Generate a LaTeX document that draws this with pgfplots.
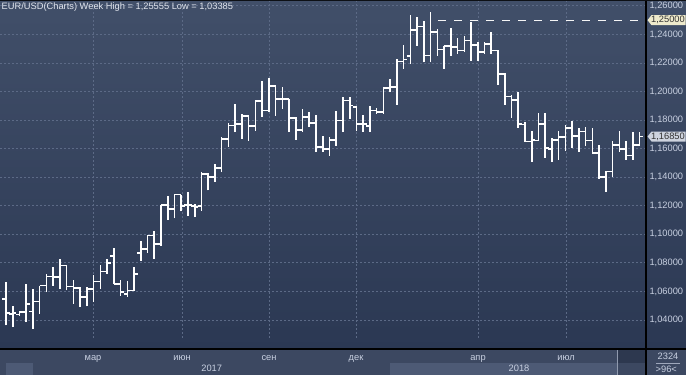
\documentclass[border=0pt]{standalone}
\usepackage{fontspec}
\setmainfont{Liberation Sans}
\usepackage{pgfplots}
\usepackage{pgfplotstable}
\pgfplotsset{compat=1.18}
\definecolor{bgtop}{RGB}{65,79,105}
\definecolor{bgbot}{RGB}{43,56,83}
\definecolor{strip}{RGB}{60,72,97}
\definecolor{striplight}{RGB}{77,90,117}
\definecolor{darkbox}{RGB}{45,56,79}
\definecolor{gridc}{RGB}{92,106,134}
\definecolor{labc}{RGB}{200,208,225}
\definecolor{titlec}{RGB}{226,230,238}
\definecolor{tagyellow}{RGB}{238,234,204}
\definecolor{taggray}{RGB}{206,211,222}
\pgfdeclareplotmark{otick}{\pgfpathmoveto{\pgfqpoint{-3.6pt}{0pt}}\pgfpathlineto{\pgfqpoint{0pt}{0pt}}\pgfusepathqstroke}
\pgfdeclareplotmark{ctick}{\pgfpathmoveto{\pgfqpoint{0pt}{0pt}}\pgfpathlineto{\pgfqpoint{3.6pt}{0pt}}\pgfusepathqstroke}
\newcommand{\lab}{\fontsize{9.3}{11}\selectfont}

\pgfplotstableread{
k O H L C
0 1.0610 1.0660 1.0530 1.0559
1 1.0547 1.0664 1.0362 1.0447
2 1.0440 1.0500 1.0349 1.0447
3 1.0437 1.0466 1.0430 1.0456
4 1.0456 1.0653 1.0384 1.0512
5 1.0460 1.0615 1.03385 1.0530
6 1.0528 1.0641 1.0442 1.0642
7 1.0642 1.0723 1.0594 1.0705
8 1.0705 1.0770 1.0641 1.0700
9 1.0700 1.0828 1.0617 1.0781
10 1.0781 1.0784 1.0607 1.0634
11 1.0634 1.0681 1.0512 1.0622
12 1.0622 1.0630 1.0490 1.0559
13 1.0560 1.0630 1.0495 1.0618
14 1.0618 1.0715 1.0525 1.0670
15 1.0670 1.0785 1.0615 1.0740
16 1.0740 1.0825 1.0725 1.0800
17 1.0850 1.0905 1.0653 1.0653
18 1.0653 1.0681 1.0571 1.0594
19 1.0580 1.0673 1.0564 1.0606
20 1.0606 1.0774 1.0601 1.0723
21 1.0870 1.0956 1.0816 1.0898
22 1.0898 1.0996 1.0870 1.0991
23 1.0991 1.1023 1.0828 1.0933
24 1.0933 1.1206 1.0917 1.1206
25 1.1206 1.1271 1.1103 1.1178
26 1.1178 1.1283 1.1112 1.1278
27 1.1278 1.1278 1.1161 1.1197
28 1.1206 1.1295 1.1127 1.1206
29 1.1199 1.1213 1.1120 1.1190
30 1.1197 1.1439 1.1166 1.1423
31 1.1423 1.1432 1.1308 1.1400
32 1.1400 1.1493 1.1369 1.1463
33 1.1463 1.1680 1.1435 1.1668
34 1.1668 1.1777 1.1612 1.1762
35 1.1762 1.1914 1.1715 1.1773
36 1.1773 1.1843 1.1668 1.1827
37 1.1827 1.1832 1.1656 1.1757
38 1.1757 1.1937 1.1726 1.1932
39 1.1932 1.2077 1.1820 1.1867
40 1.1867 1.2093 1.1860 1.2037
41 1.2037 1.2042 1.1832 1.1949
42 1.1949 1.2030 1.1878 1.1949
43 1.1949 1.1949 1.1715 1.1815
44 1.1815 1.1820 1.1661 1.1731
45 1.1731 1.1878 1.1715 1.1820
46 1.1820 1.1855 1.1750 1.1778
47 1.1778 1.1836 1.1575 1.1610
48 1.1610 1.1691 1.1575 1.1598
49 1.1598 1.1680 1.1551 1.1661
50 1.1661 1.1867 1.1621 1.1797
51 1.1797 1.1960 1.1715 1.1937
52 1.1937 1.1960 1.1808 1.1902
53 1.1890 1.1902 1.1727 1.1773
54 1.1773 1.1836 1.1720 1.1773
55 1.1760 1.1902 1.1715 1.1867
56 1.1867 1.1885 1.1845 1.1855
57 1.1855 1.2023 1.1843 1.2023
58 1.2023 1.2089 1.1995 1.2030
59 1.2030 1.2229 1.1906 1.2210
60 1.2210 1.2327 1.2159 1.2224
61 1.2250 1.2537 1.2194 1.2432
62 1.2432 1.2521 1.2322 1.2455
63 1.2455 1.2497 1.2205 1.2252
64 1.2252 1.25555 1.2205 1.2416
65 1.2416 1.2439 1.2252 1.2294
66 1.2294 1.2322 1.2159 1.2318
67 1.2318 1.2444 1.2252 1.2311
68 1.2311 1.2374 1.2264 1.2287
69 1.2287 1.2388 1.2276 1.2357
70 1.2357 1.2486 1.2217 1.2325
71 1.2325 1.2346 1.2217 1.2276
72 1.2276 1.2346 1.2264 1.2334
73 1.2334 1.2416 1.2264 1.2287
74 1.2287 1.2290 1.2049 1.2124
75 1.2124 1.2128 1.1909 1.1965
76 1.1965 1.1979 1.1815 1.1942
77 1.1942 1.1995 1.1745 1.1773
78 1.1770 1.1790 1.1645 1.1650
79 1.1650 1.1725 1.1505 1.1660
80 1.1656 1.1848 1.1656 1.1773
81 1.1773 1.1848 1.1535 1.1603
82 1.1598 1.1675 1.1505 1.1661
83 1.1661 1.1722 1.1521 1.1680
84 1.1680 1.1769 1.1586 1.1745
85 1.1745 1.1797 1.1603 1.1687
86 1.1687 1.1743 1.1575 1.1720
87 1.1720 1.1750 1.1617 1.1656
88 1.1656 1.1743 1.1563 1.1570
89 1.1570 1.1626 1.1388 1.1400
90 1.1400 1.1446 1.1299 1.1439
91 1.1439 1.1650 1.1400 1.1626
92 1.1626 1.1726 1.1579 1.1598
93 1.1598 1.1656 1.1523 1.1551
94 1.1551 1.1720 1.1523 1.1626
95 1.1626 1.1720 1.1626 1.1685
}\ohlc

\begin{document}
\begin{tikzpicture}[x=1pt,y=1pt]
\path[use as bounding box] (0,0) rectangle (686,375);
\shade[top color=bgtop, bottom color=bgbot] (0,26) rectangle (686,375);
\fill[strip] (0,0) rectangle (686,26);
\fill[striplight] (6,0) rectangle (33,12);
\fill[striplight] (390,0) rectangle (617,12);
\fill[darkbox] (618,12) rectangle (646,26);
\draw[labc!60!strip, line width=0.6pt] (617.3,0) -- (617.3,25);
\begin{axis}[at={(0,26)}, anchor=south west,
  width=646pt, height=349pt, scale only axis,
  xmin=0.11, xmax=95.96, ymin=1.02743, ymax=1.27191,
  axis line style={draw=none},
  major tick length=0pt,
  scaled ticks=false,
  xtick={13.91,27.11,40.02,52.93,71.03,84.09},
  xticklabels={},
  ytick={1.04,1.06,1.08,1.10,1.12,1.14,1.16,1.18,1.20,1.22,1.24,1.26},
  yticklabel pos=right,
  grid=major,
  grid style={gridc, dash pattern=on 2pt off 2pt, line width=0.8pt},
  tick label style={font=\lab, text=labc},
  yticklabel style={/pgf/number format/fixed, /pgf/number format/fixed zerofill,
    /pgf/number format/precision=5, /pgf/number format/use comma,
    /pgf/number format/assume math mode=true, anchor=west},
  clip mode=individual,
]
% high-low lines
\addplot[white, line width=1.6pt, mark=none, -,
  quiver={u=0, v=\thisrow{H}-\thisrow{L}}]
  table[x=k, y=L] {\ohlc};
% open ticks (left) and close ticks (right)
\addplot[only marks, mark=otick, mark options={draw=white, solid, line width=1.6pt}]
  table[x=k, y=O] {\ohlc};
\addplot[only marks, mark=ctick, mark options={draw=white, solid, line width=1.6pt}]
  table[x=k, y=C] {\ohlc};
% level line
\addplot[draw=white!92!gray, line width=0.9pt, dash pattern=on 8pt off 8pt]
  coordinates {(65.1,1.25) (94.8,1.25)};
\coordinate (tagA) at (axis cs:95.96,1.25);
\coordinate (tagB) at (axis cs:95.96,1.1685);
\end{axis}
\draw[black, line width=1.5pt] (0,26) -- (686,26);
\draw[black, line width=1.5pt] (646,0) -- (646,375);
\draw[black!80!bgtop, line width=1pt] (0,374.5) -- (686,374.5);
% month labels
\foreach \xx/\mm in {93/мар,182/июн,269/сен,356/дек,478/апр,566/июл}
  \node[font=\lab, text=labc, anchor=base, inner sep=0pt] at (\xx,14.5) {\mm};
% price tags
\fill[tagyellow] ([xshift=1.5pt]tagA) -- ++(4,5) -- ++(34,0) -- ++(0,-10) -- ++(-34,0) -- cycle;
\node[font=\lab, text=black!80, anchor=center, inner sep=0pt] at ([xshift=22pt]tagA) {1,25000};
\fill[taggray] ([xshift=1.5pt]tagB) -- ++(4,5) -- ++(34,0) -- ++(0,-10) -- ++(-34,0) -- cycle;
\node[font=\lab, text=black!80, anchor=center, inner sep=0pt] at ([xshift=22pt]tagB) {1,16850};
% title
\node[font=\lab, text=titlec, anchor=base west, inner sep=0pt] at (1.5,365) {EUR/USD(Charts) Week High = 1,25555 Low = 1,03385};
% years
\node[font=\lab, text=labc, anchor=base, inner sep=0pt] at (211.7,3) {2017};
\node[font=\lab, text=labc, anchor=base, inner sep=0pt] at (519,3) {2018};
% bottom right counters
\node[font=\lab, text=labc, anchor=base, inner sep=0pt] at (668,15) {2324};
\draw[labc!70!strip, line width=0.6pt] (656,11.7) -- (680,11.7);
\node[font=\lab, text=labc, anchor=base, inner sep=0pt] at (666.3,2.5) {>96<};
\end{tikzpicture}
\end{document}
